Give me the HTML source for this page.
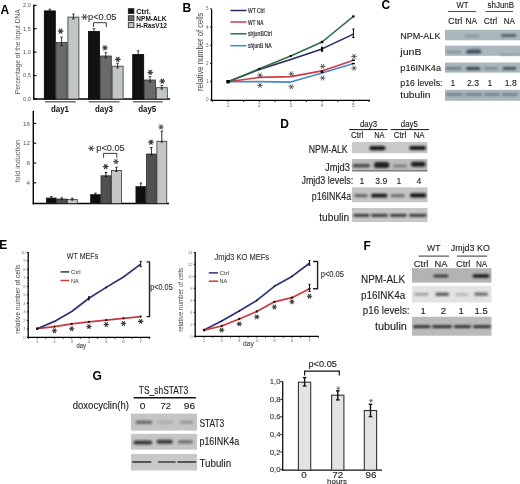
<!DOCTYPE html>
<html><head><meta charset="utf-8"><style>
html,body{margin:0;padding:0;background:#fff;}
svg{display:block;filter:blur(0.3px);}
text{font-family:"Liberation Sans", sans-serif;}
</style></head><body>
<svg width="520" height="484" viewBox="0 0 520 484">
<rect width="520" height="484" fill="#fff"/>
<defs><filter id="b1" x="-50%" y="-100%" width="200%" height="300%"><feGaussianBlur stdDeviation="0.1"/></filter><filter id="b2" x="-50%" y="-100%" width="200%" height="300%"><feGaussianBlur stdDeviation="0.2"/></filter><filter id="b3" x="-50%" y="-100%" width="200%" height="300%"><feGaussianBlur stdDeviation="0.3"/></filter><filter id="b4" x="-50%" y="-100%" width="200%" height="300%"><feGaussianBlur stdDeviation="0.4"/></filter><filter id="b5" x="-50%" y="-100%" width="200%" height="300%"><feGaussianBlur stdDeviation="0.5"/></filter><filter id="b6" x="-50%" y="-100%" width="200%" height="300%"><feGaussianBlur stdDeviation="0.6"/></filter><filter id="b7" x="-50%" y="-100%" width="200%" height="300%"><feGaussianBlur stdDeviation="0.7"/></filter><filter id="b8" x="-50%" y="-100%" width="200%" height="300%"><feGaussianBlur stdDeviation="0.8"/></filter><filter id="b9" x="-50%" y="-100%" width="200%" height="300%"><feGaussianBlur stdDeviation="0.9"/></filter><filter id="b10" x="-50%" y="-100%" width="200%" height="300%"><feGaussianBlur stdDeviation="1.0"/></filter><filter id="b11" x="-50%" y="-100%" width="200%" height="300%"><feGaussianBlur stdDeviation="1.1"/></filter><filter id="b12" x="-50%" y="-100%" width="200%" height="300%"><feGaussianBlur stdDeviation="1.2"/></filter><filter id="b13" x="-50%" y="-100%" width="200%" height="300%"><feGaussianBlur stdDeviation="1.3"/></filter><filter id="b14" x="-50%" y="-100%" width="200%" height="300%"><feGaussianBlur stdDeviation="1.4"/></filter><filter id="b15" x="-50%" y="-100%" width="200%" height="300%"><feGaussianBlur stdDeviation="1.5"/></filter><filter id="b16" x="-50%" y="-100%" width="200%" height="300%"><feGaussianBlur stdDeviation="1.6"/></filter><filter id="b17" x="-50%" y="-100%" width="200%" height="300%"><feGaussianBlur stdDeviation="1.7"/></filter><filter id="b18" x="-50%" y="-100%" width="200%" height="300%"><feGaussianBlur stdDeviation="1.8"/></filter><filter id="b19" x="-50%" y="-100%" width="200%" height="300%"><feGaussianBlur stdDeviation="1.9"/></filter><filter id="b20" x="-50%" y="-100%" width="200%" height="300%"><feGaussianBlur stdDeviation="2.0"/></filter><filter id="b21" x="-50%" y="-100%" width="200%" height="300%"><feGaussianBlur stdDeviation="2.1"/></filter><filter id="b22" x="-50%" y="-100%" width="200%" height="300%"><feGaussianBlur stdDeviation="2.2"/></filter><filter id="b23" x="-50%" y="-100%" width="200%" height="300%"><feGaussianBlur stdDeviation="2.3"/></filter><filter id="b24" x="-50%" y="-100%" width="200%" height="300%"><feGaussianBlur stdDeviation="2.4"/></filter><filter id="b25" x="-50%" y="-100%" width="200%" height="300%"><feGaussianBlur stdDeviation="2.5"/></filter><filter id="b26" x="-50%" y="-100%" width="200%" height="300%"><feGaussianBlur stdDeviation="2.6"/></filter><filter id="b27" x="-50%" y="-100%" width="200%" height="300%"><feGaussianBlur stdDeviation="2.7"/></filter><filter id="b28" x="-50%" y="-100%" width="200%" height="300%"><feGaussianBlur stdDeviation="2.8"/></filter><filter id="b29" x="-50%" y="-100%" width="200%" height="300%"><feGaussianBlur stdDeviation="2.9"/></filter></defs>
<text x="0.50" y="13.50" font-size="12" text-anchor="start" font-weight="bold" fill="#000" >A</text>
<line x1="33.80" y1="4.70" x2="33.80" y2="99.60" stroke="#000" stroke-width="1.4" />
<line x1="33.10" y1="99.00" x2="170.00" y2="99.00" stroke="#000" stroke-width="1.4" />
<line x1="33.80" y1="5.30" x2="36.60" y2="5.30" stroke="#000" stroke-width="1.1" />
<text x="30.80" y="7.20" font-size="5.6" text-anchor="end" font-weight="normal" fill="#555" >2,0</text>
<line x1="33.80" y1="28.72" x2="36.60" y2="28.72" stroke="#000" stroke-width="1.1" />
<text x="30.80" y="30.62" font-size="5.6" text-anchor="end" font-weight="normal" fill="#555" >1,5</text>
<line x1="33.80" y1="52.15" x2="36.60" y2="52.15" stroke="#000" stroke-width="1.1" />
<text x="30.80" y="54.05" font-size="5.6" text-anchor="end" font-weight="normal" fill="#555" >1,0</text>
<line x1="33.80" y1="75.58" x2="36.60" y2="75.58" stroke="#000" stroke-width="1.1" />
<text x="30.80" y="77.48" font-size="5.6" text-anchor="end" font-weight="normal" fill="#555" >0,5</text>
<line x1="33.80" y1="99.00" x2="36.60" y2="99.00" stroke="#000" stroke-width="1.1" />
<text x="30.80" y="100.90" font-size="5.6" text-anchor="end" font-weight="normal" fill="#555" >0,0</text>
<text transform="translate(17.90,51.70) rotate(-90)" x="0" y="2.59" font-size="7.4" text-anchor="middle" font-weight="normal" fill="#555" textLength="85" lengthAdjust="spacingAndGlyphs">Percentage of the input DNA</text>
<rect x="44.30" y="10.90" width="11.00" height="88.10" fill="#111" stroke="#000" stroke-width="0.8" />
<line x1="49.80" y1="9.20" x2="49.80" y2="11.92" stroke="#111" stroke-width="0.8" />
<line x1="48.50" y1="9.20" x2="51.10" y2="9.20" stroke="#111" stroke-width="0.8" />
<line x1="48.50" y1="11.92" x2="51.10" y2="11.92" stroke="#111" stroke-width="0.8" />
<rect x="56.10" y="42.40" width="11.00" height="56.60" fill="#6a6a6a" stroke="#333" stroke-width="0.8" />
<line x1="61.60" y1="37.20" x2="61.60" y2="45.52" stroke="#111" stroke-width="0.8" />
<line x1="60.30" y1="37.20" x2="62.90" y2="37.20" stroke="#111" stroke-width="0.8" />
<line x1="60.30" y1="45.52" x2="62.90" y2="45.52" stroke="#111" stroke-width="0.8" />
<rect x="67.90" y="17.10" width="11.00" height="81.90" fill="#c3c6c6" stroke="#333" stroke-width="0.8" />
<line x1="73.40" y1="14.10" x2="73.40" y2="18.90" stroke="#111" stroke-width="0.8" />
<line x1="72.10" y1="14.10" x2="74.70" y2="14.10" stroke="#111" stroke-width="0.8" />
<line x1="72.10" y1="18.90" x2="74.70" y2="18.90" stroke="#111" stroke-width="0.8" />
<rect x="88.50" y="31.50" width="11.00" height="67.50" fill="#111" stroke="#000" stroke-width="0.8" />
<line x1="94.00" y1="28.70" x2="94.00" y2="33.18" stroke="#111" stroke-width="0.8" />
<line x1="92.70" y1="28.70" x2="95.30" y2="28.70" stroke="#111" stroke-width="0.8" />
<line x1="92.70" y1="33.18" x2="95.30" y2="33.18" stroke="#111" stroke-width="0.8" />
<rect x="100.30" y="56.00" width="11.00" height="43.00" fill="#6a6a6a" stroke="#333" stroke-width="0.8" />
<line x1="105.80" y1="52.70" x2="105.80" y2="57.98" stroke="#111" stroke-width="0.8" />
<line x1="104.50" y1="52.70" x2="107.10" y2="52.70" stroke="#111" stroke-width="0.8" />
<line x1="104.50" y1="57.98" x2="107.10" y2="57.98" stroke="#111" stroke-width="0.8" />
<rect x="112.10" y="66.20" width="11.00" height="32.80" fill="#c3c6c6" stroke="#333" stroke-width="0.8" />
<line x1="117.60" y1="63.30" x2="117.60" y2="67.94" stroke="#111" stroke-width="0.8" />
<line x1="116.30" y1="63.30" x2="118.90" y2="63.30" stroke="#111" stroke-width="0.8" />
<line x1="116.30" y1="67.94" x2="118.90" y2="67.94" stroke="#111" stroke-width="0.8" />
<rect x="132.70" y="54.60" width="11.00" height="44.40" fill="#111" stroke="#000" stroke-width="0.8" />
<line x1="138.20" y1="50.80" x2="138.20" y2="56.88" stroke="#111" stroke-width="0.8" />
<line x1="136.90" y1="50.80" x2="139.50" y2="50.80" stroke="#111" stroke-width="0.8" />
<line x1="136.90" y1="56.88" x2="139.50" y2="56.88" stroke="#111" stroke-width="0.8" />
<rect x="144.50" y="80.00" width="11.00" height="19.00" fill="#6a6a6a" stroke="#333" stroke-width="0.8" />
<line x1="150.00" y1="76.70" x2="150.00" y2="81.98" stroke="#111" stroke-width="0.8" />
<line x1="148.70" y1="76.70" x2="151.30" y2="76.70" stroke="#111" stroke-width="0.8" />
<line x1="148.70" y1="81.98" x2="151.30" y2="81.98" stroke="#111" stroke-width="0.8" />
<rect x="156.30" y="87.70" width="11.00" height="11.30" fill="#c3c6c6" stroke="#333" stroke-width="0.8" />
<line x1="161.80" y1="85.40" x2="161.80" y2="89.08" stroke="#111" stroke-width="0.8" />
<line x1="160.50" y1="85.40" x2="163.10" y2="85.40" stroke="#111" stroke-width="0.8" />
<line x1="160.50" y1="89.08" x2="163.10" y2="89.08" stroke="#111" stroke-width="0.8" />
<path d="M58.25,31.10L62.95,31.10M59.42,29.06L61.78,33.14M61.78,29.06L59.42,33.14" stroke="#3c3c3c" stroke-width="1.20" fill="none" stroke-linecap="round"/>
<path d="M102.65,47.90L107.35,47.90M103.82,45.86L106.18,49.94M106.18,45.86L103.82,49.94" stroke="#3c3c3c" stroke-width="1.20" fill="none" stroke-linecap="round"/>
<path d="M115.55,59.40L120.25,59.40M116.72,57.36L119.08,61.44M119.08,57.36L116.72,61.44" stroke="#3c3c3c" stroke-width="1.20" fill="none" stroke-linecap="round"/>
<path d="M147.85,72.30L152.55,72.30M149.02,70.26L151.38,74.34M151.38,70.26L149.02,74.34" stroke="#3c3c3c" stroke-width="1.20" fill="none" stroke-linecap="round"/>
<path d="M159.95,81.20L164.65,81.20M161.12,79.16L163.48,83.24M163.48,79.16L161.12,83.24" stroke="#3c3c3c" stroke-width="1.20" fill="none" stroke-linecap="round"/>
<path d="M93.5,27 V22.7 H106.3 V27" fill="none" stroke="#222" stroke-width="0.9"/>
<path d="M81.59,17.00L87.41,17.00M83.04,14.48L85.96,19.52M85.96,14.48L83.04,19.52" stroke="#333" stroke-width="0.98" fill="none" stroke-linecap="round"/>
<text x="88.00" y="20.40" font-size="9.5" text-anchor="start" font-weight="normal" fill="#333" stroke="#333" stroke-width="0.12" textLength="28.5" lengthAdjust="spacingAndGlyphs" >p&lt;0.05</text>
<rect x="128.30" y="8.65" width="5.60" height="5.00" fill="#111" stroke="#222" stroke-width="0.8" />
<text x="136.30" y="13.90" font-size="6.8" text-anchor="start" font-weight="bold" fill="#111" textLength="14.5" lengthAdjust="spacingAndGlyphs" >Ctrl.</text>
<rect x="128.30" y="15.75" width="5.60" height="5.00" fill="#6a6a6a" stroke="#222" stroke-width="0.8" />
<text x="136.30" y="20.90" font-size="6.8" text-anchor="start" font-weight="bold" fill="#111" textLength="30.2" lengthAdjust="spacingAndGlyphs" >NPM-ALK</text>
<rect x="128.30" y="22.65" width="5.60" height="5.00" fill="#c3c6c6" stroke="#222" stroke-width="0.8" />
<text x="136.30" y="27.70" font-size="6.8" text-anchor="start" font-weight="bold" fill="#111" textLength="30.7" lengthAdjust="spacingAndGlyphs" >H-RasV12</text>
<line x1="45.00" y1="101.80" x2="75.80" y2="101.80" stroke="#666" stroke-width="1.4" />
<line x1="88.70" y1="101.80" x2="119.50" y2="101.80" stroke="#666" stroke-width="1.4" />
<line x1="133.00" y1="101.80" x2="162.70" y2="101.80" stroke="#666" stroke-width="1.4" />
<text x="51.00" y="111.50" font-size="9" text-anchor="start" font-weight="bold" fill="#111" textLength="18" lengthAdjust="spacingAndGlyphs" >day1</text>
<text x="95.00" y="111.50" font-size="9" text-anchor="start" font-weight="bold" fill="#111" textLength="18" lengthAdjust="spacingAndGlyphs" >day3</text>
<text x="138.20" y="111.50" font-size="9" text-anchor="start" font-weight="bold" fill="#111" textLength="18" lengthAdjust="spacingAndGlyphs" >day5</text>
<line x1="33.30" y1="110.70" x2="33.30" y2="204.20" stroke="#000" stroke-width="1.4" />
<line x1="32.60" y1="203.60" x2="169.00" y2="203.60" stroke="#000" stroke-width="1.5" />
<line x1="33.30" y1="182.80" x2="36.20" y2="182.80" stroke="#000" stroke-width="1.1" />
<text x="30.00" y="184.90" font-size="6.2" text-anchor="end" font-weight="normal" fill="#555" >4</text>
<line x1="33.30" y1="163.00" x2="36.20" y2="163.00" stroke="#000" stroke-width="1.1" />
<text x="30.00" y="165.10" font-size="6.2" text-anchor="end" font-weight="normal" fill="#555" >8</text>
<line x1="33.30" y1="143.20" x2="36.20" y2="143.20" stroke="#000" stroke-width="1.1" />
<text x="30.00" y="145.30" font-size="6.2" text-anchor="end" font-weight="normal" fill="#555" >12</text>
<line x1="33.30" y1="123.40" x2="36.20" y2="123.40" stroke="#000" stroke-width="1.1" />
<text x="30.00" y="125.50" font-size="6.2" text-anchor="end" font-weight="normal" fill="#555" >16</text>
<text transform="translate(17.70,161.20) rotate(-90)" x="0" y="2.59" font-size="7.4" text-anchor="middle" font-weight="normal" fill="#555" textLength="42.5" lengthAdjust="spacingAndGlyphs">fold induction</text>
<rect x="46.30" y="198.00" width="9.90" height="5.50" fill="#0e0e0e" stroke="#222" stroke-width="0.7" />
<line x1="51.25" y1="196.60" x2="51.25" y2="198.80" stroke="#111" stroke-width="0.9" />
<line x1="50.05" y1="196.60" x2="52.45" y2="196.60" stroke="#111" stroke-width="0.9" />
<line x1="50.05" y1="198.80" x2="52.45" y2="198.80" stroke="#111" stroke-width="0.9" />
<rect x="56.80" y="199.00" width="9.90" height="4.50" fill="#505050" stroke="#222" stroke-width="0.7" />
<line x1="61.75" y1="197.80" x2="61.75" y2="199.80" stroke="#111" stroke-width="0.9" />
<line x1="60.55" y1="197.80" x2="62.95" y2="197.80" stroke="#111" stroke-width="0.9" />
<line x1="60.55" y1="199.80" x2="62.95" y2="199.80" stroke="#111" stroke-width="0.9" />
<rect x="67.30" y="199.30" width="9.90" height="4.20" fill="#c4c6c6" stroke="#222" stroke-width="0.7" />
<line x1="72.25" y1="198.20" x2="72.25" y2="200.10" stroke="#111" stroke-width="0.9" />
<line x1="71.05" y1="198.20" x2="73.45" y2="198.20" stroke="#111" stroke-width="0.9" />
<line x1="71.05" y1="200.10" x2="73.45" y2="200.10" stroke="#111" stroke-width="0.9" />
<rect x="90.50" y="194.60" width="9.90" height="8.90" fill="#0e0e0e" stroke="#222" stroke-width="0.7" />
<line x1="95.45" y1="193.20" x2="95.45" y2="195.40" stroke="#111" stroke-width="0.9" />
<line x1="94.25" y1="193.20" x2="96.65" y2="193.20" stroke="#111" stroke-width="0.9" />
<line x1="94.25" y1="195.40" x2="96.65" y2="195.40" stroke="#111" stroke-width="0.9" />
<rect x="101.00" y="175.80" width="9.90" height="27.70" fill="#505050" stroke="#222" stroke-width="0.7" />
<line x1="105.95" y1="172.50" x2="105.95" y2="176.60" stroke="#111" stroke-width="0.9" />
<line x1="104.75" y1="172.50" x2="107.15" y2="172.50" stroke="#111" stroke-width="0.9" />
<line x1="104.75" y1="176.60" x2="107.15" y2="176.60" stroke="#111" stroke-width="0.9" />
<rect x="111.50" y="170.60" width="9.90" height="32.90" fill="#c4c6c6" stroke="#222" stroke-width="0.7" />
<line x1="116.45" y1="167.20" x2="116.45" y2="171.40" stroke="#111" stroke-width="0.9" />
<line x1="115.25" y1="167.20" x2="117.65" y2="167.20" stroke="#111" stroke-width="0.9" />
<line x1="115.25" y1="171.40" x2="117.65" y2="171.40" stroke="#111" stroke-width="0.9" />
<rect x="135.90" y="186.50" width="9.90" height="17.00" fill="#0e0e0e" stroke="#222" stroke-width="0.7" />
<line x1="140.85" y1="183.00" x2="140.85" y2="187.30" stroke="#111" stroke-width="0.9" />
<line x1="139.65" y1="183.00" x2="142.05" y2="183.00" stroke="#111" stroke-width="0.9" />
<line x1="139.65" y1="187.30" x2="142.05" y2="187.30" stroke="#111" stroke-width="0.9" />
<rect x="146.40" y="154.00" width="9.90" height="49.50" fill="#505050" stroke="#222" stroke-width="0.7" />
<line x1="151.35" y1="147.50" x2="151.35" y2="154.80" stroke="#111" stroke-width="0.9" />
<line x1="150.15" y1="147.50" x2="152.55" y2="147.50" stroke="#111" stroke-width="0.9" />
<line x1="150.15" y1="154.80" x2="152.55" y2="154.80" stroke="#111" stroke-width="0.9" />
<rect x="156.90" y="141.20" width="9.90" height="62.30" fill="#c4c6c6" stroke="#222" stroke-width="0.7" />
<line x1="161.85" y1="131.20" x2="161.85" y2="142.00" stroke="#111" stroke-width="0.9" />
<line x1="160.65" y1="131.20" x2="163.05" y2="131.20" stroke="#111" stroke-width="0.9" />
<line x1="160.65" y1="142.00" x2="163.05" y2="142.00" stroke="#111" stroke-width="0.9" />
<path d="M103.35,166.70L108.05,166.70M104.52,164.66L106.88,168.74M106.88,164.66L104.52,168.74" stroke="#3c3c3c" stroke-width="1.20" fill="none" stroke-linecap="round"/>
<path d="M113.65,161.70L118.35,161.70M114.82,159.66L117.18,163.74M117.18,159.66L114.82,163.74" stroke="#555" stroke-width="1.20" fill="none" stroke-linecap="round"/>
<path d="M148.65,142.20L153.35,142.20M149.82,140.16L152.18,144.24M152.18,140.16L149.82,144.24" stroke="#3c3c3c" stroke-width="1.20" fill="none" stroke-linecap="round"/>
<path d="M158.65,127.00L163.35,127.00M159.82,124.96L162.18,129.04M162.18,124.96L159.82,129.04" stroke="#555" stroke-width="1.20" fill="none" stroke-linecap="round"/>
<path d="M103.6,157.8 V153.4 H116.8 V157.8" fill="none" stroke="#222" stroke-width="0.9"/>
<path d="M88.61,148.30L93.99,148.30M89.96,145.97L92.64,150.63M92.64,145.97L89.96,150.63" stroke="#333" stroke-width="0.98" fill="none" stroke-linecap="round"/>
<text x="96.30" y="150.60" font-size="8.6" text-anchor="start" font-weight="normal" fill="#333" stroke="#333" stroke-width="0.12" textLength="28.4" lengthAdjust="spacingAndGlyphs" >p&lt;0.05</text>
<text x="182.40" y="11.50" font-size="12" text-anchor="start" font-weight="bold" fill="#000" >B</text>
<line x1="211.60" y1="9.20" x2="211.60" y2="101.00" stroke="#000" stroke-width="1.3" />
<line x1="211.00" y1="100.40" x2="370.00" y2="100.40" stroke="#000" stroke-width="1.4" />
<line x1="210.20" y1="99.80" x2="211.60" y2="99.80" stroke="#000" stroke-width="1" />
<text x="208.60" y="101.40" font-size="4.6" text-anchor="end" font-weight="normal" fill="#666" >0</text>
<line x1="210.20" y1="81.60" x2="211.60" y2="81.60" stroke="#000" stroke-width="1" />
<text x="208.60" y="83.20" font-size="4.6" text-anchor="end" font-weight="normal" fill="#666" >1</text>
<line x1="210.20" y1="63.40" x2="211.60" y2="63.40" stroke="#000" stroke-width="1" />
<text x="208.60" y="65.00" font-size="4.6" text-anchor="end" font-weight="normal" fill="#666" >2</text>
<line x1="210.20" y1="45.20" x2="211.60" y2="45.20" stroke="#000" stroke-width="1" />
<text x="208.60" y="46.80" font-size="4.6" text-anchor="end" font-weight="normal" fill="#666" >3</text>
<line x1="210.20" y1="27.00" x2="211.60" y2="27.00" stroke="#000" stroke-width="1" />
<text x="208.60" y="28.60" font-size="4.6" text-anchor="end" font-weight="normal" fill="#666" >4</text>
<line x1="210.20" y1="8.80" x2="211.60" y2="8.80" stroke="#000" stroke-width="1" />
<text x="208.60" y="10.40" font-size="4.6" text-anchor="end" font-weight="normal" fill="#666" >5</text>
<line x1="228.00" y1="100.40" x2="228.00" y2="102.00" stroke="#000" stroke-width="0.9" />
<line x1="243.70" y1="100.40" x2="243.70" y2="102.00" stroke="#000" stroke-width="0.9" />
<text x="228.00" y="106.50" font-size="4.6" text-anchor="middle" font-weight="normal" fill="#666" >1</text>
<line x1="259.35" y1="100.40" x2="259.35" y2="102.00" stroke="#000" stroke-width="0.9" />
<line x1="275.05" y1="100.40" x2="275.05" y2="102.00" stroke="#000" stroke-width="0.9" />
<text x="259.35" y="106.50" font-size="4.6" text-anchor="middle" font-weight="normal" fill="#666" >2</text>
<line x1="290.70" y1="100.40" x2="290.70" y2="102.00" stroke="#000" stroke-width="0.9" />
<line x1="306.40" y1="100.40" x2="306.40" y2="102.00" stroke="#000" stroke-width="0.9" />
<text x="290.70" y="106.50" font-size="4.6" text-anchor="middle" font-weight="normal" fill="#666" >3</text>
<line x1="322.05" y1="100.40" x2="322.05" y2="102.00" stroke="#000" stroke-width="0.9" />
<line x1="337.75" y1="100.40" x2="337.75" y2="102.00" stroke="#000" stroke-width="0.9" />
<text x="322.05" y="106.50" font-size="4.6" text-anchor="middle" font-weight="normal" fill="#666" >4</text>
<line x1="353.40" y1="100.40" x2="353.40" y2="102.00" stroke="#000" stroke-width="0.9" />
<line x1="369.10" y1="100.40" x2="369.10" y2="102.00" stroke="#000" stroke-width="0.9" />
<text x="353.40" y="106.50" font-size="4.6" text-anchor="middle" font-weight="normal" fill="#666" >5</text>
<line x1="212.30" y1="100.40" x2="212.30" y2="102.00" stroke="#000" stroke-width="0.9" />
<text transform="translate(199.70,51.80) rotate(-90)" x="0" y="3.01" font-size="8.6" text-anchor="middle" font-weight="normal" fill="#444" textLength="78.5" lengthAdjust="spacingAndGlyphs">relative number of cells</text>
<line x1="230.40" y1="10.50" x2="246.50" y2="10.50" stroke="#29295e" stroke-width="1.5" />
<text x="248.00" y="13.00" font-size="6.4" text-anchor="start" font-weight="normal" fill="#1a1a1a" textLength="16.7" lengthAdjust="spacingAndGlyphs" stroke="#1a1a1a" stroke-width="0.15">WT Ctrl</text>
<line x1="230.40" y1="22.00" x2="246.50" y2="22.00" stroke="#cc3c46" stroke-width="1.5" />
<text x="248.00" y="24.50" font-size="6.4" text-anchor="start" font-weight="normal" fill="#1a1a1a" textLength="15.5" lengthAdjust="spacingAndGlyphs" stroke="#1a1a1a" stroke-width="0.15">WT NA</text>
<line x1="230.40" y1="33.80" x2="246.50" y2="33.80" stroke="#336e48" stroke-width="1.5" />
<text x="248.00" y="36.30" font-size="6.4" text-anchor="start" font-weight="normal" fill="#1a1a1a" textLength="23.9" lengthAdjust="spacingAndGlyphs" stroke="#1a1a1a" stroke-width="0.15">shjunBCtrl</text>
<line x1="230.40" y1="45.70" x2="246.50" y2="45.70" stroke="#4588c2" stroke-width="1.5" />
<text x="248.00" y="48.20" font-size="6.4" text-anchor="start" font-weight="normal" fill="#1a1a1a" textLength="23.6" lengthAdjust="spacingAndGlyphs" stroke="#1a1a1a" stroke-width="0.15">shjunB NA</text>
<polyline points="228.00,81.70 259.35,81.60 290.70,82.10 322.05,72.90 353.40,63.60" fill="none" stroke="#4588c2" stroke-width="1.6" stroke-linejoin="round"/>
<polyline points="228.00,81.70 259.35,77.40 290.70,76.60 322.05,70.90 353.40,60.20" fill="none" stroke="#cc3c46" stroke-width="1.6" stroke-linejoin="round"/>
<polyline points="228.00,81.70 259.35,69.50 290.70,59.50 322.05,48.90 353.40,34.10" fill="none" stroke="#29295e" stroke-width="1.6" stroke-linejoin="round"/>
<polyline points="228.00,81.70 259.35,68.80 290.70,56.00 322.05,42.00 353.40,16.40" fill="none" stroke="#336e48" stroke-width="1.6" stroke-linejoin="round"/>
<rect x="226.30" y="80.00" width="3.40" height="3.40" fill="#000" stroke="none" stroke-width="0" />
<rect x="258.35" y="67.90" width="2.00" height="2.00" fill="#000" stroke="none" stroke-width="0" />
<rect x="320.85" y="40.80" width="2.40" height="2.40" fill="#000" stroke="none" stroke-width="0" />
<rect x="352.30" y="15.30" width="2.20" height="2.20" fill="#000" stroke="none" stroke-width="0" />
<line x1="322.05" y1="47.20" x2="322.05" y2="51.20" stroke="#000" stroke-width="1" />
<line x1="320.95" y1="47.20" x2="323.15" y2="47.20" stroke="#000" stroke-width="1" />
<line x1="320.95" y1="51.20" x2="323.15" y2="51.20" stroke="#000" stroke-width="1" />
<rect x="321.05" y="47.40" width="2.00" height="3.80" fill="#000" stroke="none" stroke-width="0" />
<line x1="353.40" y1="29.00" x2="353.40" y2="37.50" stroke="#000" stroke-width="1" />
<line x1="352.30" y1="29.00" x2="354.50" y2="29.00" stroke="#000" stroke-width="1" />
<line x1="352.30" y1="37.50" x2="354.50" y2="37.50" stroke="#000" stroke-width="1" />
<rect x="320.75" y="70.50" width="2.60" height="2.60" fill="#000" stroke="none" stroke-width="0" />
<rect x="289.70" y="55.00" width="2.00" height="2.00" fill="#000" stroke="none" stroke-width="0" />
<rect x="351.90" y="59.50" width="3.00" height="1.40" fill="#000" stroke="none" stroke-width="0" />
<rect x="351.90" y="62.90" width="3.00" height="1.40" fill="#000" stroke="none" stroke-width="0" />
<path d="M257.49,75.20L262.41,75.20M258.72,73.07L261.18,77.33M261.18,73.07L258.72,77.33" stroke="#333" stroke-width="0.75" fill="none" stroke-linecap="round"/>
<path d="M257.49,85.40L262.41,85.40M258.72,83.27L261.18,87.53M261.18,83.27L258.72,87.53" stroke="#333" stroke-width="0.75" fill="none" stroke-linecap="round"/>
<path d="M288.84,73.90L293.76,73.90M290.07,71.77L292.53,76.03M292.53,71.77L290.07,76.03" stroke="#333" stroke-width="0.75" fill="none" stroke-linecap="round"/>
<path d="M288.84,86.80L293.76,86.80M290.07,84.67L292.53,88.93M292.53,84.67L290.07,88.93" stroke="#333" stroke-width="0.75" fill="none" stroke-linecap="round"/>
<path d="M320.19,66.40L325.11,66.40M321.42,64.27L323.88,68.53M323.88,64.27L321.42,68.53" stroke="#333" stroke-width="0.75" fill="none" stroke-linecap="round"/>
<path d="M320.19,78.00L325.11,78.00M321.42,75.87L323.88,80.13M323.88,75.87L321.42,80.13" stroke="#333" stroke-width="0.75" fill="none" stroke-linecap="round"/>
<path d="M351.54,56.40L356.46,56.40M352.77,54.27L355.23,58.53M355.23,54.27L352.77,58.53" stroke="#333" stroke-width="0.75" fill="none" stroke-linecap="round"/>
<path d="M351.54,68.20L356.46,68.20M352.77,66.07L355.23,70.33M355.23,66.07L352.77,70.33" stroke="#333" stroke-width="0.75" fill="none" stroke-linecap="round"/>
<text x="381.40" y="8.80" font-size="12" text-anchor="start" font-weight="bold" fill="#000" >C</text>
<text x="456.50" y="7.90" font-size="8.4" text-anchor="start" font-weight="normal" fill="#222" stroke="#222" stroke-width="0.12" textLength="12" lengthAdjust="spacingAndGlyphs" >WT</text>
<text x="487.40" y="7.90" font-size="8.4" text-anchor="start" font-weight="normal" fill="#222" stroke="#222" stroke-width="0.12" textLength="26.8" lengthAdjust="spacingAndGlyphs" >shJunB</text>
<line x1="448.00" y1="11.50" x2="476.20" y2="11.50" stroke="#555" stroke-width="1.1" />
<line x1="485.40" y1="11.50" x2="513.00" y2="11.50" stroke="#555" stroke-width="1.1" />
<text x="448.00" y="24.20" font-size="8.6" text-anchor="start" font-weight="normal" fill="#222" stroke="#222" stroke-width="0.12" textLength="14.3" lengthAdjust="spacingAndGlyphs" >Ctrl</text>
<text x="465.40" y="24.20" font-size="8.6" text-anchor="start" font-weight="normal" fill="#222" stroke="#222" stroke-width="0.12" textLength="11.6" lengthAdjust="spacingAndGlyphs" >NA</text>
<text x="483.80" y="24.20" font-size="8.6" text-anchor="start" font-weight="normal" fill="#222" stroke="#222" stroke-width="0.12" textLength="13.4" lengthAdjust="spacingAndGlyphs" >Ctrl</text>
<text x="503.80" y="24.20" font-size="8.6" text-anchor="start" font-weight="normal" fill="#222" stroke="#222" stroke-width="0.12" textLength="11.2" lengthAdjust="spacingAndGlyphs" >NA</text>
<text x="400.30" y="38.60" font-size="9.5" text-anchor="start" font-weight="normal" fill="#222" stroke="#222" stroke-width="0.12" textLength="40.1" lengthAdjust="spacingAndGlyphs" >NPM-ALK</text>
<text x="400.30" y="54.60" font-size="9.5" text-anchor="start" font-weight="normal" fill="#222" stroke="#222" stroke-width="0.12" textLength="21.2" lengthAdjust="spacingAndGlyphs" >junB</text>
<text x="400.30" y="71.00" font-size="9.5" text-anchor="start" font-weight="normal" fill="#222" stroke="#222" stroke-width="0.12" textLength="40.7" lengthAdjust="spacingAndGlyphs" >p16INK4a</text>
<text x="400.30" y="85.80" font-size="9.5" text-anchor="start" font-weight="normal" fill="#222" stroke="#222" stroke-width="0.12" textLength="42.2" lengthAdjust="spacingAndGlyphs" >p16 levels:</text>
<text x="400.30" y="98.20" font-size="9.5" text-anchor="start" font-weight="normal" fill="#222" stroke="#222" stroke-width="0.12" textLength="30.2" lengthAdjust="spacingAndGlyphs" >tubulin</text>
<rect x="445.00" y="29.80" width="75.00" height="10.50" fill="#aab7bd" stroke="none" stroke-width="0" />
<rect x="445.00" y="45.60" width="75.00" height="10.20" fill="#aab7bd" stroke="none" stroke-width="0" />
<rect x="445.00" y="62.50" width="75.00" height="10.10" fill="#aab7bd" stroke="none" stroke-width="0" />
<rect x="445.00" y="89.80" width="75.00" height="11.00" fill="#aab7bd" stroke="none" stroke-width="0" />
<rect x="464.50" y="35.10" width="15.00" height="2.20" rx="1.10" fill="#2b3b44" opacity="0.28" filter="url(#b9)"/>
<rect x="501.20" y="34.30" width="15.00" height="2.40" rx="1.20" fill="#2b3b44" opacity="0.8" filter="url(#b9)"/>
<rect x="446.50" y="51.10" width="15.00" height="2.20" rx="1.10" fill="#2b3b44" opacity="0.3" filter="url(#b9)"/>
<rect x="466.00" y="50.00" width="15.30" height="3.60" rx="1.80" fill="#2b3b44" opacity="0.85" filter="url(#b9)"/>
<rect x="470.00" y="48.50" width="10.00" height="2.00" rx="1.00" fill="#2b3b44" opacity="0.35" filter="url(#b9)"/>
<rect x="500.00" y="54.30" width="20.00" height="1.40" rx="0.70" fill="#2b3b44" opacity="0.3" filter="url(#b9)"/>
<rect x="445.70" y="67.20" width="15.80" height="2.40" rx="1.20" fill="#2b3b44" opacity="0.55" filter="url(#b9)"/>
<rect x="466.00" y="66.90" width="14.20" height="3.00" rx="1.50" fill="#2b3b44" opacity="0.9" filter="url(#b9)"/>
<rect x="484.00" y="67.30" width="13.50" height="2.20" rx="1.10" fill="#2b3b44" opacity="0.42" filter="url(#b9)"/>
<rect x="502.70" y="67.00" width="13.50" height="2.80" rx="1.40" fill="#2b3b44" opacity="0.85" filter="url(#b9)"/>
<rect x="446.00" y="93.40" width="17.00" height="2.00" rx="1.00" fill="#2b3b44" opacity="0.6" filter="url(#b9)"/>
<rect x="465.00" y="93.40" width="17.00" height="2.00" rx="1.00" fill="#2b3b44" opacity="0.6" filter="url(#b9)"/>
<rect x="484.00" y="93.40" width="16.00" height="2.00" rx="1.00" fill="#2b3b44" opacity="0.6" filter="url(#b9)"/>
<rect x="502.00" y="93.40" width="16.00" height="2.00" rx="1.00" fill="#2b3b44" opacity="0.6" filter="url(#b9)"/>
<text x="453.00" y="85.60" font-size="8.6" text-anchor="middle" font-weight="normal" fill="#222" stroke="#222" stroke-width="0.12" >1</text>
<text x="473.00" y="85.60" font-size="8.6" text-anchor="middle" font-weight="normal" fill="#222" stroke="#222" stroke-width="0.12" >2.3</text>
<text x="490.00" y="85.60" font-size="8.6" text-anchor="middle" font-weight="normal" fill="#222" stroke="#222" stroke-width="0.12" >1</text>
<text x="510.80" y="85.60" font-size="8.6" text-anchor="middle" font-weight="normal" fill="#222" stroke="#222" stroke-width="0.12" >1.8</text>
<text x="280.20" y="128.20" font-size="12" text-anchor="start" font-weight="bold" fill="#000" >D</text>
<text x="360.00" y="127.20" font-size="8.4" text-anchor="start" font-weight="normal" fill="#222" stroke="#222" stroke-width="0.12" textLength="17" lengthAdjust="spacingAndGlyphs" >day3</text>
<text x="400.80" y="127.20" font-size="8.4" text-anchor="start" font-weight="normal" fill="#222" stroke="#222" stroke-width="0.12" textLength="17" lengthAdjust="spacingAndGlyphs" >day5</text>
<line x1="349.20" y1="129.60" x2="387.50" y2="129.60" stroke="#111" stroke-width="1" />
<line x1="390.80" y1="129.60" x2="429.00" y2="129.60" stroke="#111" stroke-width="1" />
<text x="351.00" y="138.00" font-size="8.4" text-anchor="start" font-weight="normal" fill="#222" stroke="#222" stroke-width="0.12" textLength="12.4" lengthAdjust="spacingAndGlyphs" >Ctrl</text>
<text x="374.20" y="138.00" font-size="8.4" text-anchor="start" font-weight="normal" fill="#222" stroke="#222" stroke-width="0.12" textLength="10.4" lengthAdjust="spacingAndGlyphs" >NA</text>
<text x="393.80" y="138.00" font-size="8.4" text-anchor="start" font-weight="normal" fill="#222" stroke="#222" stroke-width="0.12" textLength="12.4" lengthAdjust="spacingAndGlyphs" >Ctrl</text>
<text x="413.70" y="138.00" font-size="8.4" text-anchor="start" font-weight="normal" fill="#222" stroke="#222" stroke-width="0.12" textLength="10.9" lengthAdjust="spacingAndGlyphs" >NA</text>
<text x="308.80" y="152.70" font-size="10.2" text-anchor="start" font-weight="normal" fill="#222" stroke="#222" stroke-width="0.12" textLength="38.9" lengthAdjust="spacingAndGlyphs" >NPM-ALK</text>
<text x="325.00" y="170.60" font-size="10.2" text-anchor="start" font-weight="normal" fill="#222" stroke="#222" stroke-width="0.12" textLength="25" lengthAdjust="spacingAndGlyphs" >Jmjd3</text>
<text x="301.40" y="184.10" font-size="10.2" text-anchor="start" font-weight="normal" fill="#222" stroke="#222" stroke-width="0.12" textLength="51.9" lengthAdjust="spacingAndGlyphs" >Jmjd3 levels:</text>
<text x="311.80" y="199.60" font-size="10.2" text-anchor="start" font-weight="normal" fill="#222" stroke="#222" stroke-width="0.12" textLength="39.4" lengthAdjust="spacingAndGlyphs" >p16INK4a</text>
<text x="319.30" y="220.90" font-size="10.2" text-anchor="start" font-weight="normal" fill="#222" stroke="#222" stroke-width="0.12" textLength="29.9" lengthAdjust="spacingAndGlyphs" >tubulin</text>
<rect x="352.00" y="142.00" width="75.50" height="11.20" fill="#c9c9c9" stroke="none" stroke-width="0" />
<rect x="352.00" y="159.00" width="75.50" height="12.80" fill="#bdbdbd" stroke="none" stroke-width="0" />
<rect x="352.00" y="187.40" width="75.50" height="14.80" fill="#c4c4c4" stroke="none" stroke-width="0" />
<rect x="352.00" y="208.00" width="75.50" height="14.00" fill="#c6c6c6" stroke="none" stroke-width="0" />
<rect x="369.30" y="145.90" width="16.20" height="4.40" rx="2.20" fill="#111" opacity="0.95" filter="url(#b9)"/>
<rect x="409.20" y="145.90" width="16.80" height="4.00" rx="2.00" fill="#111" opacity="0.95" filter="url(#b9)"/>
<rect x="352.50" y="164.00" width="17.50" height="3.20" rx="1.60" fill="#111" opacity="0.68" filter="url(#b9)"/>
<rect x="374.00" y="161.90" width="15.30" height="6.20" rx="2.50" fill="#111" opacity="0.88" filter="url(#b9)"/>
<rect x="393.00" y="164.50" width="14.00" height="3.00" rx="1.50" fill="#111" opacity="0.35" filter="url(#b9)"/>
<rect x="411.00" y="161.70" width="14.60" height="5.00" rx="2.50" fill="#111" opacity="0.9" filter="url(#b9)"/>
<rect x="352.00" y="170.00" width="75.50" height="1.20" rx="0.60" fill="#111" opacity="0.35" filter="url(#b6)"/>
<rect x="354.50" y="194.40" width="13.00" height="2.40" rx="1.20" fill="#111" opacity="0.7" filter="url(#b9)"/>
<rect x="371.00" y="193.70" width="16.40" height="3.80" rx="1.90" fill="#111" opacity="0.95" filter="url(#b9)"/>
<rect x="390.80" y="194.40" width="13.90" height="2.40" rx="1.20" fill="#111" opacity="0.65" filter="url(#b9)"/>
<rect x="409.90" y="193.30" width="16.40" height="4.20" rx="2.10" fill="#111" opacity="0.95" filter="url(#b9)"/>
<rect x="353.50" y="213.90" width="16.00" height="2.80" rx="1.40" fill="#111" opacity="0.8" filter="url(#b9)"/>
<rect x="371.00" y="213.90" width="17.00" height="2.80" rx="1.40" fill="#111" opacity="0.8" filter="url(#b9)"/>
<rect x="390.00" y="213.90" width="16.50" height="2.80" rx="1.40" fill="#111" opacity="0.8" filter="url(#b9)"/>
<rect x="409.00" y="213.90" width="17.50" height="2.80" rx="1.40" fill="#111" opacity="0.8" filter="url(#b9)"/>
<text x="361.80" y="183.90" font-size="8.6" text-anchor="middle" font-weight="normal" fill="#222" stroke="#222" stroke-width="0.12" >1</text>
<text x="381.30" y="183.90" font-size="8.6" text-anchor="middle" font-weight="normal" fill="#222" stroke="#222" stroke-width="0.12" >3.9</text>
<text x="399.00" y="183.90" font-size="8.6" text-anchor="middle" font-weight="normal" fill="#222" stroke="#222" stroke-width="0.12" >1</text>
<text x="419.00" y="183.90" font-size="8.6" text-anchor="middle" font-weight="normal" fill="#222" stroke="#222" stroke-width="0.12" >4</text>
<text x="-0.70" y="248.90" font-size="12" text-anchor="start" font-weight="bold" fill="#000" >E</text>
<line x1="28.20" y1="252.00" x2="28.20" y2="338.00" stroke="#000" stroke-width="1.3" />
<line x1="27.60" y1="337.40" x2="150.30" y2="337.40" stroke="#000" stroke-width="1.3" />
<line x1="26.80" y1="337.40" x2="28.20" y2="337.40" stroke="#000" stroke-width="0.9" />
<text x="25.60" y="338.90" font-size="4.2" text-anchor="end" font-weight="normal" fill="#777" >0</text>
<line x1="26.80" y1="328.90" x2="28.20" y2="328.90" stroke="#000" stroke-width="0.9" />
<text x="25.60" y="330.40" font-size="4.2" text-anchor="end" font-weight="normal" fill="#777" >1</text>
<line x1="26.80" y1="320.40" x2="28.20" y2="320.40" stroke="#000" stroke-width="0.9" />
<text x="25.60" y="321.90" font-size="4.2" text-anchor="end" font-weight="normal" fill="#777" >2</text>
<line x1="26.80" y1="311.90" x2="28.20" y2="311.90" stroke="#000" stroke-width="0.9" />
<text x="25.60" y="313.40" font-size="4.2" text-anchor="end" font-weight="normal" fill="#777" >3</text>
<line x1="26.80" y1="303.40" x2="28.20" y2="303.40" stroke="#000" stroke-width="0.9" />
<text x="25.60" y="304.90" font-size="4.2" text-anchor="end" font-weight="normal" fill="#777" >4</text>
<line x1="26.80" y1="294.90" x2="28.20" y2="294.90" stroke="#000" stroke-width="0.9" />
<text x="25.60" y="296.40" font-size="4.2" text-anchor="end" font-weight="normal" fill="#777" >5</text>
<line x1="26.80" y1="286.40" x2="28.20" y2="286.40" stroke="#000" stroke-width="0.9" />
<text x="25.60" y="287.90" font-size="4.2" text-anchor="end" font-weight="normal" fill="#777" >6</text>
<line x1="26.80" y1="277.90" x2="28.20" y2="277.90" stroke="#000" stroke-width="0.9" />
<text x="25.60" y="279.40" font-size="4.2" text-anchor="end" font-weight="normal" fill="#777" >7</text>
<line x1="26.80" y1="269.40" x2="28.20" y2="269.40" stroke="#000" stroke-width="0.9" />
<text x="25.60" y="270.90" font-size="4.2" text-anchor="end" font-weight="normal" fill="#777" >8</text>
<line x1="26.80" y1="260.90" x2="28.20" y2="260.90" stroke="#000" stroke-width="0.9" />
<text x="25.60" y="262.40" font-size="4.2" text-anchor="end" font-weight="normal" fill="#777" >9</text>
<line x1="26.80" y1="252.40" x2="28.20" y2="252.40" stroke="#000" stroke-width="0.9" />
<text x="25.60" y="253.90" font-size="4.2" text-anchor="end" font-weight="normal" fill="#777" >10</text>
<line x1="37.20" y1="337.40" x2="37.20" y2="339.00" stroke="#000" stroke-width="0.8" />
<line x1="45.80" y1="337.40" x2="45.80" y2="339.00" stroke="#000" stroke-width="0.8" />
<text x="37.20" y="343.00" font-size="4.4" text-anchor="middle" font-weight="normal" fill="#666" >1</text>
<line x1="54.45" y1="337.40" x2="54.45" y2="339.00" stroke="#000" stroke-width="0.8" />
<line x1="63.05" y1="337.40" x2="63.05" y2="339.00" stroke="#000" stroke-width="0.8" />
<text x="54.45" y="343.00" font-size="4.4" text-anchor="middle" font-weight="normal" fill="#666" >2</text>
<line x1="71.70" y1="337.40" x2="71.70" y2="339.00" stroke="#000" stroke-width="0.8" />
<line x1="80.30" y1="337.40" x2="80.30" y2="339.00" stroke="#000" stroke-width="0.8" />
<text x="71.70" y="343.00" font-size="4.4" text-anchor="middle" font-weight="normal" fill="#666" >3</text>
<line x1="88.95" y1="337.40" x2="88.95" y2="339.00" stroke="#000" stroke-width="0.8" />
<line x1="97.55" y1="337.40" x2="97.55" y2="339.00" stroke="#000" stroke-width="0.8" />
<text x="88.95" y="343.00" font-size="4.4" text-anchor="middle" font-weight="normal" fill="#666" >4</text>
<line x1="106.20" y1="337.40" x2="106.20" y2="339.00" stroke="#000" stroke-width="0.8" />
<line x1="114.80" y1="337.40" x2="114.80" y2="339.00" stroke="#000" stroke-width="0.8" />
<text x="106.20" y="343.00" font-size="4.4" text-anchor="middle" font-weight="normal" fill="#666" >5</text>
<line x1="123.45" y1="337.40" x2="123.45" y2="339.00" stroke="#000" stroke-width="0.8" />
<line x1="132.05" y1="337.40" x2="132.05" y2="339.00" stroke="#000" stroke-width="0.8" />
<text x="123.45" y="343.00" font-size="4.4" text-anchor="middle" font-weight="normal" fill="#666" >6</text>
<line x1="140.70" y1="337.40" x2="140.70" y2="339.00" stroke="#000" stroke-width="0.8" />
<line x1="149.30" y1="337.40" x2="149.30" y2="339.00" stroke="#000" stroke-width="0.8" />
<text x="140.70" y="343.00" font-size="4.4" text-anchor="middle" font-weight="normal" fill="#666" >7</text>
<line x1="28.60" y1="337.40" x2="28.60" y2="339.00" stroke="#000" stroke-width="0.8" />
<text transform="translate(17.20,299.20) rotate(-90)" x="0" y="2.59" font-size="7.4" text-anchor="middle" font-weight="normal" fill="#444" textLength="69" lengthAdjust="spacingAndGlyphs">relative number of cells</text>
<text x="76.60" y="347.80" font-size="7" text-anchor="start" font-weight="normal" fill="#444" stroke="#444" stroke-width="0.12" textLength="9.4" lengthAdjust="spacingAndGlyphs" >day</text>
<text x="66.80" y="259.20" font-size="8.7" text-anchor="start" font-weight="normal" fill="#333" stroke="#333" stroke-width="0.12" textLength="31.4" lengthAdjust="spacingAndGlyphs" >WT MEFs</text>
<line x1="60.60" y1="271.90" x2="69.30" y2="271.90" stroke="#2a3278" stroke-width="1.5" />
<line x1="60.60" y1="280.50" x2="69.30" y2="280.50" stroke="#c83a3c" stroke-width="1.5" />
<text x="70.90" y="274.00" font-size="6.2" text-anchor="start" font-weight="normal" fill="#333" textLength="9.7" lengthAdjust="spacingAndGlyphs" >Ctrl</text>
<text x="70.90" y="282.60" font-size="6.2" text-anchor="start" font-weight="normal" fill="#333" textLength="7.7" lengthAdjust="spacingAndGlyphs" >NA</text>
<polyline points="37.20,328.70 54.45,326.60 71.70,323.90 88.95,321.90 106.20,320.20 123.45,318.30 140.70,316.60" fill="none" stroke="#cc383c" stroke-width="1.7" stroke-linejoin="round"/>
<polyline points="37.20,328.70 54.45,321.40 71.70,311.50 88.95,298.30 106.20,287.40 123.45,277.00 140.70,264.10" fill="none" stroke="#2a3278" stroke-width="1.7" stroke-linejoin="round"/>
<circle cx="37.20" cy="328.70" r="1.1" fill="#111"/>
<circle cx="54.45" cy="326.60" r="1.1" fill="#111"/>
<circle cx="71.70" cy="323.90" r="1.1" fill="#111"/>
<circle cx="88.95" cy="321.90" r="1.1" fill="#111"/>
<circle cx="88.95" cy="298.30" r="1" fill="#111"/>
<circle cx="106.20" cy="320.20" r="1.1" fill="#111"/>
<circle cx="106.20" cy="287.40" r="1" fill="#111"/>
<circle cx="123.45" cy="318.30" r="1.1" fill="#111"/>
<circle cx="140.70" cy="316.60" r="1.1" fill="#111"/>
<circle cx="37.20" cy="328.7" r="1.3" fill="#111"/>
<line x1="88.95" y1="296.60" x2="88.95" y2="300.00" stroke="#111" stroke-width="0.9" />
<line x1="88.15" y1="296.60" x2="89.75" y2="296.60" stroke="#111" stroke-width="0.9" />
<line x1="88.15" y1="300.00" x2="89.75" y2="300.00" stroke="#111" stroke-width="0.9" />
<line x1="140.70" y1="261.30" x2="140.70" y2="266.70" stroke="#111" stroke-width="1" />
<line x1="139.60" y1="261.30" x2="141.80" y2="261.30" stroke="#111" stroke-width="1" />
<line x1="139.60" y1="266.70" x2="141.80" y2="266.70" stroke="#111" stroke-width="1" />
<path d="M52.21,330.70L56.69,330.70M53.33,328.76L55.57,332.64M55.57,328.76L53.33,332.64" stroke="#3a3a3a" stroke-width="1.09" fill="none" stroke-linecap="round"/>
<path d="M69.46,328.70L73.94,328.70M70.58,326.76L72.82,330.64M72.82,326.76L70.58,330.64" stroke="#3a3a3a" stroke-width="1.09" fill="none" stroke-linecap="round"/>
<path d="M86.71,326.60L91.19,326.60M87.83,324.66L90.07,328.54M90.07,324.66L87.83,328.54" stroke="#3a3a3a" stroke-width="1.09" fill="none" stroke-linecap="round"/>
<path d="M103.96,324.50L108.44,324.50M105.08,322.56L107.32,326.44M107.32,322.56L105.08,326.44" stroke="#3a3a3a" stroke-width="1.09" fill="none" stroke-linecap="round"/>
<path d="M121.21,323.50L125.69,323.50M122.33,321.56L124.57,325.44M124.57,321.56L122.33,325.44" stroke="#3a3a3a" stroke-width="1.09" fill="none" stroke-linecap="round"/>
<path d="M138.46,321.40L142.94,321.40M139.58,319.46L141.82,323.34M141.82,319.46L139.58,323.34" stroke="#3a3a3a" stroke-width="1.09" fill="none" stroke-linecap="round"/>
<path d="M146.6,261.9 H149.5 V316.6 H146.6" fill="none" stroke="#222" stroke-width="1.4"/>
<text x="150.30" y="289.60" font-size="8.2" text-anchor="start" font-weight="normal" fill="#333" stroke="#333" stroke-width="0.12" textLength="22.4" lengthAdjust="spacingAndGlyphs" >p&lt;0.05</text>
<line x1="195.20" y1="252.00" x2="195.20" y2="337.00" stroke="#000" stroke-width="1.3" />
<line x1="194.60" y1="336.30" x2="318.60" y2="336.30" stroke="#000" stroke-width="1.3" />
<line x1="193.80" y1="336.30" x2="195.20" y2="336.30" stroke="#000" stroke-width="0.9" />
<text x="192.60" y="337.80" font-size="4.2" text-anchor="end" font-weight="normal" fill="#777" >0</text>
<line x1="193.80" y1="324.30" x2="195.20" y2="324.30" stroke="#000" stroke-width="0.9" />
<text x="192.60" y="325.80" font-size="4.2" text-anchor="end" font-weight="normal" fill="#777" >2</text>
<line x1="193.80" y1="312.30" x2="195.20" y2="312.30" stroke="#000" stroke-width="0.9" />
<text x="192.60" y="313.80" font-size="4.2" text-anchor="end" font-weight="normal" fill="#777" >4</text>
<line x1="193.80" y1="300.30" x2="195.20" y2="300.30" stroke="#000" stroke-width="0.9" />
<text x="192.60" y="301.80" font-size="4.2" text-anchor="end" font-weight="normal" fill="#777" >6</text>
<line x1="193.80" y1="288.30" x2="195.20" y2="288.30" stroke="#000" stroke-width="0.9" />
<text x="192.60" y="289.80" font-size="4.2" text-anchor="end" font-weight="normal" fill="#777" >8</text>
<line x1="193.80" y1="276.30" x2="195.20" y2="276.30" stroke="#000" stroke-width="0.9" />
<text x="192.60" y="277.80" font-size="4.2" text-anchor="end" font-weight="normal" fill="#777" >10</text>
<line x1="193.80" y1="264.30" x2="195.20" y2="264.30" stroke="#000" stroke-width="0.9" />
<text x="192.60" y="265.80" font-size="4.2" text-anchor="end" font-weight="normal" fill="#777" >12</text>
<line x1="193.80" y1="252.30" x2="195.20" y2="252.30" stroke="#000" stroke-width="0.9" />
<text x="192.60" y="253.80" font-size="4.2" text-anchor="end" font-weight="normal" fill="#777" >14</text>
<line x1="204.10" y1="336.30" x2="204.10" y2="337.90" stroke="#000" stroke-width="0.8" />
<line x1="212.90" y1="336.30" x2="212.90" y2="337.90" stroke="#000" stroke-width="0.8" />
<text x="204.10" y="342.00" font-size="4.4" text-anchor="middle" font-weight="normal" fill="#666" >1</text>
<line x1="221.67" y1="336.30" x2="221.67" y2="337.90" stroke="#000" stroke-width="0.8" />
<line x1="230.47" y1="336.30" x2="230.47" y2="337.90" stroke="#000" stroke-width="0.8" />
<text x="221.67" y="342.00" font-size="4.4" text-anchor="middle" font-weight="normal" fill="#666" >2</text>
<line x1="239.24" y1="336.30" x2="239.24" y2="337.90" stroke="#000" stroke-width="0.8" />
<line x1="248.04" y1="336.30" x2="248.04" y2="337.90" stroke="#000" stroke-width="0.8" />
<text x="239.24" y="342.00" font-size="4.4" text-anchor="middle" font-weight="normal" fill="#666" >3</text>
<line x1="256.81" y1="336.30" x2="256.81" y2="337.90" stroke="#000" stroke-width="0.8" />
<line x1="265.61" y1="336.30" x2="265.61" y2="337.90" stroke="#000" stroke-width="0.8" />
<text x="256.81" y="342.00" font-size="4.4" text-anchor="middle" font-weight="normal" fill="#666" >4</text>
<line x1="274.38" y1="336.30" x2="274.38" y2="337.90" stroke="#000" stroke-width="0.8" />
<line x1="283.18" y1="336.30" x2="283.18" y2="337.90" stroke="#000" stroke-width="0.8" />
<text x="274.38" y="342.00" font-size="4.4" text-anchor="middle" font-weight="normal" fill="#666" >5</text>
<line x1="291.95" y1="336.30" x2="291.95" y2="337.90" stroke="#000" stroke-width="0.8" />
<line x1="300.75" y1="336.30" x2="300.75" y2="337.90" stroke="#000" stroke-width="0.8" />
<text x="291.95" y="342.00" font-size="4.4" text-anchor="middle" font-weight="normal" fill="#666" >6</text>
<line x1="309.52" y1="336.30" x2="309.52" y2="337.90" stroke="#000" stroke-width="0.8" />
<line x1="318.32" y1="336.30" x2="318.32" y2="337.90" stroke="#000" stroke-width="0.8" />
<text x="309.52" y="342.00" font-size="4.4" text-anchor="middle" font-weight="normal" fill="#666" >7</text>
<line x1="195.30" y1="336.30" x2="195.30" y2="337.90" stroke="#000" stroke-width="0.8" />
<text transform="translate(180.30,299.80) rotate(-90)" x="0" y="2.59" font-size="7.4" text-anchor="middle" font-weight="normal" fill="#444" textLength="64" lengthAdjust="spacingAndGlyphs">relative number of cells</text>
<text x="243.10" y="345.80" font-size="7" text-anchor="start" font-weight="normal" fill="#444" stroke="#444" stroke-width="0.12" textLength="10.6" lengthAdjust="spacingAndGlyphs" >day</text>
<text x="214.40" y="260.20" font-size="8.7" text-anchor="start" font-weight="normal" fill="#333" stroke="#333" stroke-width="0.12" textLength="54.6" lengthAdjust="spacingAndGlyphs" >Jmjd3 KO MEFs</text>
<line x1="208.80" y1="272.90" x2="218.00" y2="272.90" stroke="#2a3278" stroke-width="1.5" />
<line x1="208.80" y1="281.20" x2="218.00" y2="281.20" stroke="#c83a3c" stroke-width="1.5" />
<text x="219.60" y="275.00" font-size="6.2" text-anchor="start" font-weight="normal" fill="#333" textLength="9.7" lengthAdjust="spacingAndGlyphs" >Ctrl</text>
<text x="219.60" y="283.30" font-size="6.2" text-anchor="start" font-weight="normal" fill="#333" textLength="7.7" lengthAdjust="spacingAndGlyphs" >NA</text>
<polyline points="204.10,330.10 221.67,321.00 239.24,311.10 256.81,300.40 274.38,286.30 291.95,276.40 309.52,263.20" fill="none" stroke="#2a3278" stroke-width="1.7" stroke-linejoin="round"/>
<polyline points="204.10,330.10 221.67,326.00 239.24,319.00 256.81,311.50 274.38,301.80 291.95,297.70 309.52,288.80" fill="none" stroke="#cc383c" stroke-width="1.7" stroke-linejoin="round"/>
<circle cx="204.10" cy="330.10" r="1.15" fill="#111"/>
<circle cx="204.10" cy="330.10" r="0.8" fill="#111"/>
<circle cx="221.67" cy="326.00" r="1.15" fill="#111"/>
<circle cx="221.67" cy="321.00" r="0.8" fill="#111"/>
<circle cx="239.24" cy="319.00" r="1.15" fill="#111"/>
<circle cx="239.24" cy="311.10" r="0.8" fill="#111"/>
<circle cx="256.81" cy="311.50" r="1.15" fill="#111"/>
<circle cx="256.81" cy="300.40" r="0.8" fill="#111"/>
<circle cx="274.38" cy="301.80" r="1.15" fill="#111"/>
<circle cx="274.38" cy="286.30" r="0.8" fill="#111"/>
<circle cx="291.95" cy="297.70" r="1.15" fill="#111"/>
<circle cx="291.95" cy="276.40" r="0.8" fill="#111"/>
<circle cx="309.52" cy="288.80" r="1.15" fill="#111"/>
<circle cx="309.52" cy="263.20" r="0.8" fill="#111"/>
<circle cx="204.10" cy="330.1" r="1.3" fill="#111"/>
<line x1="309.52" y1="260.50" x2="309.52" y2="265.20" stroke="#111" stroke-width="1" />
<line x1="308.42" y1="260.50" x2="310.62" y2="260.50" stroke="#111" stroke-width="1" />
<line x1="308.42" y1="265.20" x2="310.62" y2="265.20" stroke="#111" stroke-width="1" />
<line x1="309.52" y1="284.30" x2="309.52" y2="291.50" stroke="#111" stroke-width="1" />
<line x1="308.42" y1="284.30" x2="310.62" y2="284.30" stroke="#111" stroke-width="1" />
<line x1="308.42" y1="291.50" x2="310.62" y2="291.50" stroke="#111" stroke-width="1" />
<path d="M219.43,330.10L223.91,330.10M220.55,328.16L222.79,332.04M222.79,328.16L220.55,332.04" stroke="#3a3a3a" stroke-width="1.09" fill="none" stroke-linecap="round"/>
<path d="M237.00,323.90L241.48,323.90M238.12,321.96L240.36,325.84M240.36,321.96L238.12,325.84" stroke="#3a3a3a" stroke-width="1.09" fill="none" stroke-linecap="round"/>
<path d="M254.57,316.90L259.05,316.90M255.69,314.96L257.93,318.84M257.93,314.96L255.69,318.84" stroke="#3a3a3a" stroke-width="1.09" fill="none" stroke-linecap="round"/>
<path d="M272.14,307.00L276.62,307.00M273.26,305.06L275.50,308.94M275.50,305.06L273.26,308.94" stroke="#3a3a3a" stroke-width="1.09" fill="none" stroke-linecap="round"/>
<path d="M289.71,301.80L294.19,301.80M290.83,299.86L293.07,303.74M293.07,299.86L290.83,303.74" stroke="#3a3a3a" stroke-width="1.09" fill="none" stroke-linecap="round"/>
<path d="M307.28,296.20L311.76,296.20M308.40,294.26L310.64,298.14M310.64,294.26L308.40,298.14" stroke="#3a3a3a" stroke-width="1.09" fill="none" stroke-linecap="round"/>
<path d="M313,261.5 H317.6 V288.8 H313" fill="none" stroke="#222" stroke-width="1.4"/>
<text x="320.70" y="277.00" font-size="8.2" text-anchor="start" font-weight="normal" fill="#333" stroke="#333" stroke-width="0.12" textLength="23.3" lengthAdjust="spacingAndGlyphs" >p&lt;0.05</text>
<text x="363.50" y="250.20" font-size="12" text-anchor="start" font-weight="bold" fill="#000" >F</text>
<text x="427.10" y="251.20" font-size="9.6" text-anchor="start" font-weight="normal" fill="#222" stroke="#222" stroke-width="0.12" textLength="13.4" lengthAdjust="spacingAndGlyphs" >WT</text>
<text x="450.80" y="251.20" font-size="9.6" text-anchor="start" font-weight="normal" fill="#222" stroke="#222" stroke-width="0.12" textLength="39" lengthAdjust="spacingAndGlyphs" >Jmjd3 KO</text>
<line x1="418.50" y1="256.10" x2="449.10" y2="256.10" stroke="#333" stroke-width="1" />
<line x1="456.90" y1="256.10" x2="487.20" y2="256.10" stroke="#333" stroke-width="1" />
<text x="413.70" y="267.00" font-size="9.4" text-anchor="start" font-weight="normal" fill="#222" stroke="#222" stroke-width="0.12" textLength="14.7" lengthAdjust="spacingAndGlyphs" >Ctrl</text>
<text x="434.40" y="267.00" font-size="9.4" text-anchor="start" font-weight="normal" fill="#222" stroke="#222" stroke-width="0.12" textLength="13.0" lengthAdjust="spacingAndGlyphs" >NA</text>
<text x="456.00" y="267.00" font-size="9.4" text-anchor="start" font-weight="normal" fill="#222" stroke="#222" stroke-width="0.12" textLength="14.4" lengthAdjust="spacingAndGlyphs" >Ctrl</text>
<text x="475.90" y="267.00" font-size="9.4" text-anchor="start" font-weight="normal" fill="#222" stroke="#222" stroke-width="0.12" textLength="11.3" lengthAdjust="spacingAndGlyphs" >NA</text>
<text x="361.00" y="282.60" font-size="10.4" text-anchor="start" font-weight="normal" fill="#222" stroke="#222" stroke-width="0.12" textLength="44.2" lengthAdjust="spacingAndGlyphs" >NPM-ALK</text>
<text x="361.00" y="299.40" font-size="10.4" text-anchor="start" font-weight="normal" fill="#222" stroke="#222" stroke-width="0.12" textLength="44.2" lengthAdjust="spacingAndGlyphs" >p16INK4a</text>
<text x="362.80" y="313.70" font-size="10.4" text-anchor="start" font-weight="normal" fill="#222" stroke="#222" stroke-width="0.12" textLength="46.7" lengthAdjust="spacingAndGlyphs" >p16 levels:</text>
<text x="374.90" y="330.20" font-size="10.4" text-anchor="start" font-weight="normal" fill="#222" stroke="#222" stroke-width="0.12" textLength="32.0" lengthAdjust="spacingAndGlyphs" >tubulin</text>
<rect x="412.00" y="268.20" width="79.50" height="14.40" fill="#b3b3b3" stroke="none" stroke-width="0" />
<rect x="412.00" y="286.00" width="79.50" height="16.50" fill="#e3e3e3" stroke="none" stroke-width="0" />
<rect x="412.00" y="316.70" width="79.50" height="19.00" fill="#bababa" stroke="none" stroke-width="0" />
<rect x="433.50" y="274.70" width="14.80" height="2.60" rx="1.30" fill="#111" opacity="0.85" filter="url(#b9)"/>
<rect x="472.50" y="274.20" width="16.90" height="3.60" rx="1.80" fill="#111" opacity="0.95" filter="url(#b9)"/>
<rect x="414.50" y="292.90" width="13.90" height="2.60" rx="1.30" fill="#111" opacity="0.36" filter="url(#b9)"/>
<rect x="435.30" y="292.50" width="13.80" height="3.40" rx="1.70" fill="#111" opacity="0.62" filter="url(#b9)"/>
<rect x="455.20" y="293.40" width="12.90" height="2.20" rx="1.10" fill="#111" opacity="0.3" filter="url(#b9)"/>
<rect x="474.20" y="292.60" width="13.80" height="3.20" rx="1.60" fill="#111" opacity="0.56" filter="url(#b9)"/>
<rect x="413.00" y="325.25" width="17.50" height="2.70" rx="1.35" fill="#111" opacity="0.85" filter="url(#b9)"/>
<rect x="432.00" y="325.25" width="20.00" height="2.70" rx="1.35" fill="#111" opacity="0.85" filter="url(#b9)"/>
<rect x="454.00" y="325.25" width="17.00" height="2.70" rx="1.35" fill="#111" opacity="0.85" filter="url(#b9)"/>
<rect x="473.00" y="325.25" width="18.00" height="2.70" rx="1.35" fill="#111" opacity="0.85" filter="url(#b9)"/>
<text x="423.20" y="313.70" font-size="9.6" text-anchor="middle" font-weight="normal" fill="#222" stroke="#222" stroke-width="0.12" >1</text>
<text x="443.40" y="313.70" font-size="9.6" text-anchor="middle" font-weight="normal" fill="#222" stroke="#222" stroke-width="0.12" >2</text>
<text x="461.20" y="313.70" font-size="9.6" text-anchor="middle" font-weight="normal" fill="#222" stroke="#222" stroke-width="0.12" >1</text>
<text x="481.10" y="313.70" font-size="9.6" text-anchor="middle" font-weight="normal" fill="#222" stroke="#222" stroke-width="0.12" >1.5</text>
<text x="92.40" y="379.70" font-size="12" text-anchor="start" font-weight="bold" fill="#000" >G</text>
<text x="138.80" y="393.60" font-size="10.2" text-anchor="start" font-weight="normal" fill="#222" stroke="#222" stroke-width="0.12" textLength="49.3" lengthAdjust="spacingAndGlyphs" >TS_shSTAT3</text>
<line x1="133.70" y1="397.80" x2="195.90" y2="397.80" stroke="#111" stroke-width="1.4" />
<text x="72.70" y="409.20" font-size="10" text-anchor="start" font-weight="normal" fill="#222" stroke="#222" stroke-width="0.12" textLength="56.3" lengthAdjust="spacingAndGlyphs" >doxocyclin(h)</text>
<text x="139.70" y="409.40" font-size="9.4" text-anchor="start" font-weight="normal" fill="#222" stroke="#222" stroke-width="0.12" textLength="5.7" lengthAdjust="spacingAndGlyphs" >0</text>
<text x="160.50" y="409.40" font-size="9.4" text-anchor="start" font-weight="normal" fill="#222" stroke="#222" stroke-width="0.12" textLength="10.3" lengthAdjust="spacingAndGlyphs" >72</text>
<text x="183.80" y="409.40" font-size="9.4" text-anchor="start" font-weight="normal" fill="#222" stroke="#222" stroke-width="0.12" textLength="11.3" lengthAdjust="spacingAndGlyphs" >96</text>
<rect x="131.00" y="413.60" width="66.00" height="17.00" fill="#c4c4c4" stroke="none" stroke-width="0" />
<rect x="131.00" y="433.80" width="66.00" height="15.90" fill="#c6c6c6" stroke="none" stroke-width="0" />
<rect x="131.00" y="453.90" width="66.00" height="16.60" fill="#c8c8c8" stroke="none" stroke-width="0" />
<rect x="135.60" y="420.70" width="16.60" height="3.00" rx="1.50" fill="#111" opacity="0.55" filter="url(#b10)"/>
<rect x="157.80" y="421.20" width="15.20" height="2.20" rx="1.10" fill="#111" opacity="0.18" filter="url(#b10)"/>
<rect x="180.00" y="421.00" width="13.10" height="2.40" rx="1.20" fill="#111" opacity="0.3" filter="url(#b10)"/>
<rect x="133.50" y="440.40" width="18.70" height="4.20" rx="2.10" fill="#111" opacity="0.78" filter="url(#b11)"/>
<rect x="156.40" y="439.70" width="16.60" height="4.00" rx="2.00" fill="#111" opacity="0.75" filter="url(#b11)"/>
<rect x="177.90" y="440.30" width="15.20" height="3.20" rx="1.60" fill="#111" opacity="0.5" filter="url(#b11)"/>
<rect x="132.00" y="461.00" width="19.50" height="2.00" rx="1.00" fill="#111" opacity="0.6" filter="url(#b7)"/>
<rect x="157.80" y="461.00" width="18.00" height="2.00" rx="1.00" fill="#111" opacity="0.55" filter="url(#b7)"/>
<rect x="177.20" y="460.90" width="19.40" height="2.20" rx="1.10" fill="#111" opacity="0.6" filter="url(#b7)"/>
<text x="199.40" y="427.00" font-size="10.2" text-anchor="start" font-weight="normal" fill="#222" stroke="#222" stroke-width="0.12" textLength="24.9" lengthAdjust="spacingAndGlyphs" >STAT3</text>
<text x="199.40" y="445.40" font-size="10.2" text-anchor="start" font-weight="normal" fill="#222" stroke="#222" stroke-width="0.12" textLength="39.9" lengthAdjust="spacingAndGlyphs" >p16INK4a</text>
<text x="199.40" y="466.90" font-size="10.2" text-anchor="start" font-weight="normal" fill="#222" stroke="#222" stroke-width="0.12" textLength="31.8" lengthAdjust="spacingAndGlyphs" >Tubulin</text>
<line x1="282.70" y1="381.50" x2="282.70" y2="470.80" stroke="#111" stroke-width="1.3" />
<line x1="282.10" y1="470.20" x2="382.00" y2="470.20" stroke="#111" stroke-width="1.3" />
<line x1="280.40" y1="381.70" x2="282.70" y2="381.70" stroke="#111" stroke-width="1" />
<text x="280.60" y="384.30" font-size="7.6" text-anchor="end" font-weight="normal" fill="#333" stroke="#333" stroke-width="0.12" textLength="10.8" lengthAdjust="spacingAndGlyphs" >1,0</text>
<line x1="280.40" y1="399.40" x2="282.70" y2="399.40" stroke="#111" stroke-width="1" />
<text x="280.60" y="402.00" font-size="7.6" text-anchor="end" font-weight="normal" fill="#333" stroke="#333" stroke-width="0.12" textLength="10.8" lengthAdjust="spacingAndGlyphs" >0,8</text>
<line x1="280.40" y1="416.80" x2="282.70" y2="416.80" stroke="#111" stroke-width="1" />
<text x="280.60" y="419.40" font-size="7.6" text-anchor="end" font-weight="normal" fill="#333" stroke="#333" stroke-width="0.12" textLength="10.8" lengthAdjust="spacingAndGlyphs" >0,6</text>
<line x1="280.40" y1="434.40" x2="282.70" y2="434.40" stroke="#111" stroke-width="1" />
<text x="280.60" y="437.00" font-size="7.6" text-anchor="end" font-weight="normal" fill="#333" stroke="#333" stroke-width="0.12" textLength="10.8" lengthAdjust="spacingAndGlyphs" >0,4</text>
<line x1="280.40" y1="452.00" x2="282.70" y2="452.00" stroke="#111" stroke-width="1" />
<text x="280.60" y="454.60" font-size="7.6" text-anchor="end" font-weight="normal" fill="#333" stroke="#333" stroke-width="0.12" textLength="10.8" lengthAdjust="spacingAndGlyphs" >0,2</text>
<line x1="280.40" y1="469.60" x2="282.70" y2="469.60" stroke="#111" stroke-width="1" />
<text x="280.60" y="472.20" font-size="7.6" text-anchor="end" font-weight="normal" fill="#333" stroke="#333" stroke-width="0.12" textLength="10.8" lengthAdjust="spacingAndGlyphs" >0,0</text>
<rect x="298.40" y="382.20" width="12.30" height="88.00" fill="#e3e3e3" stroke="#333" stroke-width="1.1" />
<rect x="331.60" y="395.20" width="12.30" height="75.00" fill="#e3e3e3" stroke="#333" stroke-width="1.1" />
<rect x="364.30" y="410.50" width="12.30" height="59.70" fill="#e3e3e3" stroke="#333" stroke-width="1.1" />
<line x1="304.60" y1="377.60" x2="304.60" y2="386.00" stroke="#111" stroke-width="1.4" />
<line x1="302.80" y1="377.60" x2="306.40" y2="377.60" stroke="#111" stroke-width="1.4" />
<line x1="302.80" y1="386.00" x2="306.40" y2="386.00" stroke="#111" stroke-width="1.4" />
<line x1="337.80" y1="390.80" x2="337.80" y2="399.90" stroke="#111" stroke-width="1.4" />
<line x1="336.00" y1="390.80" x2="339.60" y2="390.80" stroke="#111" stroke-width="1.4" />
<line x1="336.00" y1="399.90" x2="339.60" y2="399.90" stroke="#111" stroke-width="1.4" />
<line x1="370.50" y1="404.30" x2="370.50" y2="416.60" stroke="#111" stroke-width="1.4" />
<line x1="368.70" y1="404.30" x2="372.30" y2="404.30" stroke="#111" stroke-width="1.4" />
<line x1="368.70" y1="416.60" x2="372.30" y2="416.60" stroke="#111" stroke-width="1.4" />
<path d="M336.62,388.20L339.98,388.20M337.46,386.75L339.14,389.65M339.14,386.75L337.46,389.65" stroke="#444" stroke-width="0.60" fill="none" stroke-linecap="round"/>
<path d="M369.32,400.70L372.68,400.70M370.16,399.25L371.84,402.15M371.84,399.25L370.16,402.15" stroke="#444" stroke-width="0.60" fill="none" stroke-linecap="round"/>
<text x="303.90" y="477.80" font-size="9.8" text-anchor="middle" font-weight="normal" fill="#222" stroke="#222" stroke-width="0.12" >0</text>
<text x="337.80" y="477.80" font-size="9.8" text-anchor="middle" font-weight="normal" fill="#222" stroke="#222" stroke-width="0.12" >72</text>
<text x="371.00" y="477.80" font-size="9.8" text-anchor="middle" font-weight="normal" fill="#222" stroke="#222" stroke-width="0.12" >96</text>
<text x="337.00" y="484.30" font-size="8" text-anchor="middle" font-weight="normal" fill="#222" stroke="#222" stroke-width="0.12" >hours</text>
<path d="M304.6,375.4 V371.1 H339.3 V375.4" fill="none" stroke="#111" stroke-width="1.2"/>
<text x="308.50" y="367.00" font-size="9.4" text-anchor="start" font-weight="normal" fill="#222" stroke="#222" stroke-width="0.12" textLength="28.4" lengthAdjust="spacingAndGlyphs" >p&lt;0.05</text>
</svg>
</body></html>
